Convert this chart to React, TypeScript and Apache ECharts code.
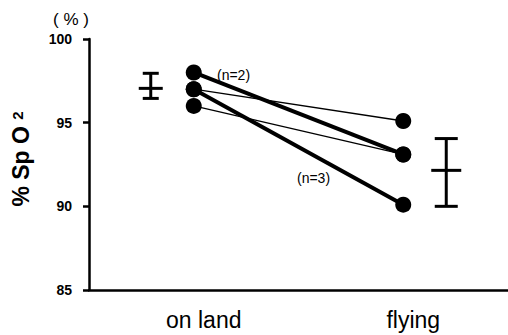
import React, { useEffect, useRef } from "react";
import * as echarts from "echarts";

const categories = ["on land", "flying"];
const thinA = [97, 95.1];
const thinB = [96, 93.1];
const thickA = [98, 93.1];
const thickB = [97, 90.1];
// [categoryIndex, low, mean, high]
const errorBars = [
  [0, 96.45, 97.05, 97.95],
  [1, 90.0, 92.15, 94.05],
];
const yTicks = { min: 85, max: 100, interval: 5 };

const errOffsets = [-43, 43];
const capWidths = [16, 23];
const meanWidths = [24, 30];

export default function App() {
  const ref = useRef<HTMLDivElement>(null);
  useEffect(() => {
    if (!ref.current) return;
    const chart = echarts.init(ref.current, null, { renderer: "svg" });
    const lineSeries = (data: number[], width: number) => ({
      type: "line",
      data,
      symbol: "circle",
      symbolSize: 16,
      itemStyle: { color: "#000" },
      lineStyle: { color: "#000", width },
      z: 3,
    });
    chart.setOption({
      animation: false,
      backgroundColor: "#fff",
      textStyle: { fontFamily: "Liberation Sans" },
      grid: { left: 89, right: 0, top: 39, bottom: 45 },
      xAxis: {
        type: "category",
        data: categories,
        boundaryGap: true,
        axisLine: { lineStyle: { color: "#000", width: 2.5 } },
        axisTick: { alignWithLabel: true, length: 6, lineStyle: { color: "#000", width: 2.5 } },
        axisLabel: {
          color: "#000",
          fontSize: 23,
          margin: 18,
          padding: [0, 0, 0, 20],
          fontFamily: "Liberation Sans",
        },
      },
      yAxis: {
        type: "value",
        min: yTicks.min,
        max: yTicks.max,
        interval: yTicks.interval,
        splitLine: { show: false },
        axisLine: { show: true, lineStyle: { color: "#000", width: 2.5 } },
        axisTick: { show: true, length: 6, lineStyle: { color: "#000", width: 2.5 } },
        axisLabel: {
          color: "#000",
          fontSize: 14,
          fontWeight: "bold",
          margin: 17,
          fontFamily: "Liberation Sans",
        },
      },
      graphic: [
        {
          type: "text",
          x: 21,
          y: 159,
          rotation: Math.PI / 2,
          style: {
            text: "{a|% Sp O }{b|2}",
            align: "center",
            verticalAlign: "middle",
            rich: {
              a: { fontSize: 23, fontWeight: "bold", fill: "#000", fontFamily: "Liberation Sans" },
              b: { fontSize: 15, fontWeight: "bold", fill: "#000", fontFamily: "Liberation Sans", verticalAlign: "top" },
            },
          },
        },
        { type: "text", x: 71, y: 19, style: { text: "( % )", align: "center", verticalAlign: "middle", fontSize: 17, fill: "#000", fontFamily: "Liberation Sans" } },
        { type: "text", x: 217, y: 68, style: { text: "(n=2)", fontSize: 14, fill: "#000", fontFamily: "Liberation Sans" } },
        { type: "text", x: 297, y: 171, style: { text: "(n=3)", fontSize: 14, fill: "#000", fontFamily: "Liberation Sans" } },
      ],
      series: [
        lineSeries(thinA, 1.3),
        lineSeries(thinB, 1.3),
        lineSeries(thickA, 4),
        lineSeries(thickB, 4),
        {
          type: "custom",
          data: errorBars,
          renderItem: (params: any, api: any) => {
            const idx = params.dataIndex;
            const cat = api.value(0);
            const lo = api.coord([cat, api.value(1)]);
            const mid = api.coord([cat, api.value(2)]);
            const hi = api.coord([cat, api.value(3)]);
            const x = lo[0] + errOffsets[idx];
            const cw = capWidths[idx] / 2;
            const mw = meanWidths[idx] / 2;
            const style = { stroke: "#000", lineWidth: 3 };
            return {
              type: "group",
              children: [
                { type: "line", shape: { x1: x, y1: lo[1], x2: x, y2: hi[1] }, style },
                { type: "line", shape: { x1: x - cw, y1: lo[1], x2: x + cw, y2: lo[1] }, style },
                { type: "line", shape: { x1: x - cw, y1: hi[1], x2: x + cw, y2: hi[1] }, style },
                { type: "line", shape: { x1: x - mw, y1: mid[1], x2: x + mw, y2: mid[1] }, style },
              ],
            };
          },
          z: 4,
        },
      ],
    });
    return () => chart.dispose();
  }, []);
  return <div ref={ref} style={{ width: 508, height: 335, position: "absolute", left: 0, top: 0 }} />;
}
